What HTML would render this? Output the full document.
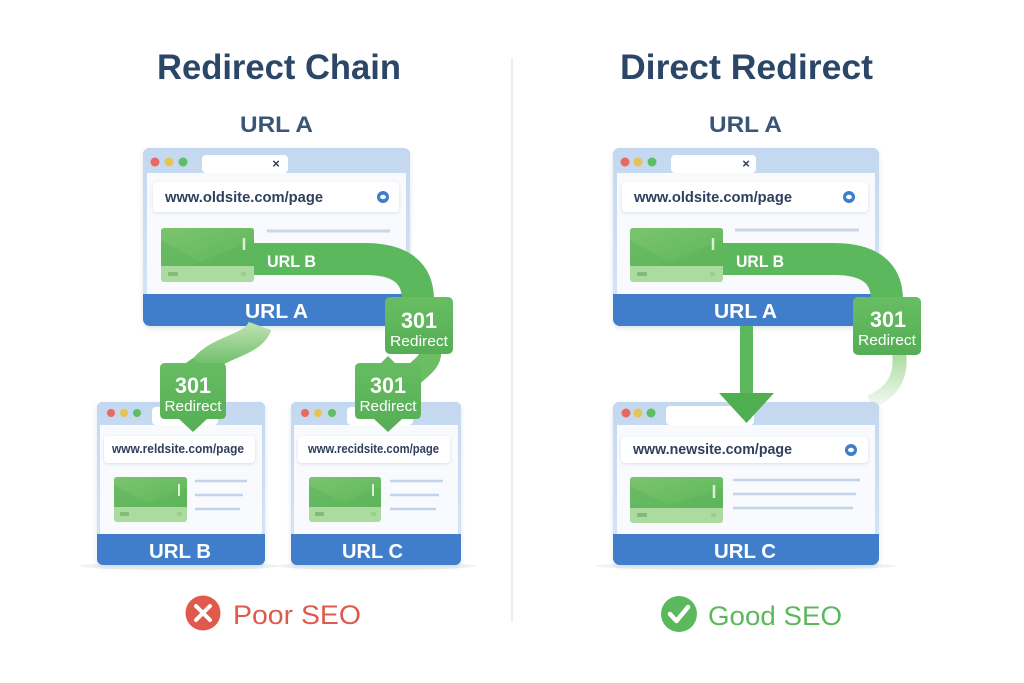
<!DOCTYPE html>
<html><head><meta charset="utf-8"><style>
html,body{margin:0;padding:0;background:#fff;}
svg{display:block;}
text{font-family:"Liberation Sans",sans-serif;}
</style></head><body>
<svg width="1024" height="683" viewBox="0 0 1024 683" xmlns="http://www.w3.org/2000/svg">
<defs>
<filter id="sh" x="-10%" y="-10%" width="120%" height="130%"><feDropShadow dx="0" dy="2" stdDeviation="2.5" flood-color="#7a90b0" flood-opacity="0.25"/></filter>
<filter id="sh2" x="-10%" y="-10%" width="120%" height="130%"><feDropShadow dx="0" dy="1" stdDeviation="1.5" flood-color="#8aa0bf" flood-opacity="0.3"/></filter>
<linearGradient id="gimg" x1="0" y1="0" x2="1" y2="1"><stop offset="0" stop-color="#7cc46f"/><stop offset="1" stop-color="#5cb65a"/></linearGradient>
<linearGradient id="gbox" x1="0" y1="0" x2="0" y2="1"><stop offset="0" stop-color="#68bd62"/><stop offset="1" stop-color="#55ae55"/></linearGradient>
<linearGradient id="gribA" x1="0" y1="0" x2="0" y2="1"><stop offset="0" stop-color="#b9e0ae"/><stop offset="1" stop-color="#62b95d"/></linearGradient>
<linearGradient id="garc" x1="0" y1="0" x2="0" y2="1"><stop offset="0" stop-color="#a9d99c"/><stop offset="1" stop-color="#eef7ec"/></linearGradient>
<linearGradient id="gtb" x1="0" y1="0" x2="0" y2="1"><stop offset="0" stop-color="#c3d8f0"/><stop offset="1" stop-color="#d3e3f5"/></linearGradient>
</defs>

<!-- divider -->
<line x1="512" y1="58" x2="512" y2="622" stroke="#e4e7eb" stroke-width="1.5"/>

<!-- titles -->
<text x="157" y="79" font-size="35" font-weight="bold" fill="#2c4668" textLength="244" lengthAdjust="spacingAndGlyphs">Redirect Chain</text>
<text x="620" y="79" font-size="35" font-weight="bold" fill="#2c4668" textLength="253" lengthAdjust="spacingAndGlyphs">Direct Redirect</text>
<text x="240" y="132" font-size="22" font-weight="bold" fill="#3b5577" textLength="73" lengthAdjust="spacingAndGlyphs">URL A</text>
<text x="709" y="132" font-size="22" font-weight="bold" fill="#3b5577" textLength="73" lengthAdjust="spacingAndGlyphs">URL A</text>

<!-- ============ LEFT TOP WINDOW ============ -->
<g filter="url(#sh)">
<rect x="143" y="148" width="267" height="178" rx="7" fill="#3f7ecb"/>
<rect x="143" y="148" width="267" height="146" rx="7" fill="url(#gtb)"/>
<rect x="143" y="284" width="267" height="10" fill="#d3e3f5"/>
</g>
<rect x="147" y="173" width="259" height="121" fill="#f8fafd"/>
<circle cx="155" cy="162" r="4.5" fill="#e8695f"/>
<circle cx="169" cy="162" r="4.5" fill="#e6c453"/>
<circle cx="183" cy="162" r="4.5" fill="#5dbf63"/>
<rect x="202" y="155" width="86" height="18" rx="4" fill="#fff"/>
<text x="276" y="168" font-size="13" font-weight="bold" fill="#2c3e5c" text-anchor="middle">×</text>
<rect x="153" y="182" width="246" height="30" rx="4" fill="#fff" filter="url(#sh2)"/>
<text x="165" y="202" font-size="15" font-weight="bold" fill="#2f405e" textLength="158" lengthAdjust="spacingAndGlyphs">www.oldsite.com/page</text>
<circle cx="383" cy="197" r="6" fill="#3f7ecb"/><ellipse cx="383" cy="197" rx="3" ry="2.2" fill="#fff"/>
<line x1="267" y1="231" x2="390" y2="231" stroke="#c9d7e9" stroke-width="3"/>
<rect x="161" y="228" width="93" height="54" rx="3" fill="#acdba0"/>
<path d="M164,228 H251 Q254,228 254,231 V266 H161 V231 Q161,228 164,228 Z" fill="url(#gimg)"/>
<path d="M161,240 L200,262 L254,240 V266 H161 Z" fill="#5db45a" opacity="0.5"/>
<line x1="244" y1="238" x2="244" y2="250" stroke="#d9efd3" stroke-width="2.5"/>
<rect x="168" y="272" width="10" height="4" rx="1" fill="#84ba79"/>
<rect x="241" y="272" width="5" height="4" rx="1" fill="#9ccd90"/>
<!-- ribbon URL B -->
<path d="M254,259 H365 Q418,259 418,300" fill="none" stroke="#5cb85c" stroke-width="32"/>
<text x="267" y="267" font-size="17" font-weight="bold" fill="#fff" textLength="49" lengthAdjust="spacingAndGlyphs">URL B</text>
<text x="245" y="318" font-size="20" font-weight="bold" fill="#fff" textLength="63" lengthAdjust="spacingAndGlyphs">URL A</text>

<!-- ribbons to lower badges -->
<path d="M260,326 C252,348 214,345 198,372" fill="none" stroke="url(#gribA)" stroke-width="24"/>
<path d="M430,350 C432,362 420,368 410,378" fill="none" stroke="#6abd63" stroke-width="22"/>

<!-- 301 box left -->
<rect x="385" y="297" width="68" height="57" rx="5" fill="url(#gbox)"/>
<text x="419" y="328" font-size="22" font-weight="bold" fill="#fff" text-anchor="middle" textLength="36" lengthAdjust="spacingAndGlyphs">301</text>
<text x="419" y="346" font-size="15" fill="#fff" text-anchor="middle" textLength="58" lengthAdjust="spacingAndGlyphs">Redirect</text>

<!-- ============ LOWER WINDOW B ============ -->
<ellipse cx="180" cy="566" rx="100" ry="4" fill="#eef1f5"/>
<g filter="url(#sh)">
<rect x="97" y="402" width="168" height="163" rx="6" fill="#3f7ecb"/>
<rect x="97" y="402" width="168" height="132" rx="6" fill="url(#gtb)"/>
<rect x="97" y="526" width="168" height="8" fill="#d3e3f5"/>
</g>
<rect x="100" y="425" width="162" height="109" fill="#f8fafd"/>
<circle cx="111" cy="413" r="4" fill="#e8695f"/>
<circle cx="124" cy="413" r="4" fill="#e6c453"/>
<circle cx="137" cy="413" r="4" fill="#5dbf63"/>
<rect x="152" y="407" width="66" height="18" rx="4" fill="#fff"/>
<rect x="104" y="436" width="151" height="27" rx="4" fill="#fff" filter="url(#sh2)"/>
<text x="112" y="453" font-size="12.5" font-weight="bold" fill="#2f405e" textLength="132" lengthAdjust="spacingAndGlyphs">www.reldsite.com/page</text>
<rect x="114" y="477" width="73" height="45" rx="3" fill="#acdba0"/>
<path d="M117,477 H184 Q187,477 187,480 V507 H114 V480 Q114,477 117,477 Z" fill="url(#gimg)"/>
<path d="M114,485 L148,503 L187,487 V507 H114 Z" fill="#5db45a" opacity="0.5"/>
<line x1="179" y1="484" x2="179" y2="496" stroke="#d9efd3" stroke-width="2"/>
<rect x="120" y="512" width="9" height="4" rx="1" fill="#84ba79"/>
<rect x="177" y="512" width="5" height="4" rx="1" fill="#9ccd90"/>
<line x1="195" y1="481" x2="247" y2="481" stroke="#c2d3ea" stroke-width="2.5"/>
<line x1="195" y1="495" x2="243" y2="495" stroke="#c2d3ea" stroke-width="2.5"/>
<line x1="195" y1="509" x2="240" y2="509" stroke="#c2d3ea" stroke-width="2.5"/>
<text x="149" y="558" font-size="20" font-weight="bold" fill="#fff" textLength="62" lengthAdjust="spacingAndGlyphs">URL B</text>

<!-- ============ LOWER WINDOW C ============ -->
<ellipse cx="376" cy="566" rx="100" ry="4" fill="#eef1f5"/>
<g filter="url(#sh)">
<rect x="291" y="402" width="170" height="163" rx="6" fill="#3f7ecb"/>
<rect x="291" y="402" width="170" height="132" rx="6" fill="url(#gtb)"/>
<rect x="291" y="526" width="170" height="8" fill="#d3e3f5"/>
</g>
<rect x="294" y="425" width="164" height="109" fill="#f8fafd"/>
<circle cx="305" cy="413" r="4" fill="#e8695f"/>
<circle cx="318" cy="413" r="4" fill="#e6c453"/>
<circle cx="332" cy="413" r="4" fill="#5dbf63"/>
<rect x="347" y="407" width="66" height="18" rx="4" fill="#fff"/>
<rect x="298" y="436" width="152" height="27" rx="4" fill="#fff" filter="url(#sh2)"/>
<text x="308" y="453" font-size="12.5" font-weight="bold" fill="#2f405e" textLength="131" lengthAdjust="spacingAndGlyphs">www.recidsite.com/page</text>
<rect x="309" y="477" width="72" height="45" rx="3" fill="#acdba0"/>
<path d="M312,477 H378 Q381,477 381,480 V507 H309 V480 Q309,477 312,477 Z" fill="url(#gimg)"/>
<path d="M309,485 L343,503 L381,487 V507 H309 Z" fill="#5db45a" opacity="0.5"/>
<line x1="373" y1="484" x2="373" y2="496" stroke="#d9efd3" stroke-width="2"/>
<rect x="315" y="512" width="9" height="4" rx="1" fill="#84ba79"/>
<rect x="371" y="512" width="5" height="4" rx="1" fill="#9ccd90"/>
<line x1="390" y1="481" x2="443" y2="481" stroke="#c2d3ea" stroke-width="2.5"/>
<line x1="390" y1="495" x2="439" y2="495" stroke="#c2d3ea" stroke-width="2.5"/>
<line x1="390" y1="509" x2="436" y2="509" stroke="#c2d3ea" stroke-width="2.5"/>
<text x="342" y="558" font-size="20" font-weight="bold" fill="#fff" textLength="61" lengthAdjust="spacingAndGlyphs">URL C</text>

<!-- badges -->
<path d="M160,368 Q160,363 165,363 L186,363 L193,358 L200,363 L221,363 Q226,363 226,368 L226,414 Q226,419 221,419 L207,419 L193,432 L179,419 L165,419 Q160,419 160,414 Z" fill="url(#gbox)"/>
<text x="193" y="393" font-size="22" font-weight="bold" fill="#fff" text-anchor="middle" textLength="36" lengthAdjust="spacingAndGlyphs">301</text>
<text x="193" y="411" font-size="15" fill="#fff" text-anchor="middle" textLength="57" lengthAdjust="spacingAndGlyphs">Redirect</text>
<path d="M355,368 Q355,363 360,363 L381,363 L388,356 L395,363 L416,363 Q421,363 421,368 L421,414 Q421,419 416,419 L402,419 L388,432 L374,419 L360,419 Q355,419 355,414 Z" fill="url(#gbox)"/>
<text x="388" y="393" font-size="22" font-weight="bold" fill="#fff" text-anchor="middle" textLength="36" lengthAdjust="spacingAndGlyphs">301</text>
<text x="388" y="411" font-size="15" fill="#fff" text-anchor="middle" textLength="57" lengthAdjust="spacingAndGlyphs">Redirect</text>

<!-- ============ RIGHT TOP WINDOW ============ -->
<g filter="url(#sh)">
<rect x="613" y="148" width="266" height="178" rx="7" fill="#3f7ecb"/>
<rect x="613" y="148" width="266" height="146" rx="7" fill="url(#gtb)"/>
<rect x="613" y="284" width="266" height="10" fill="#d3e3f5"/>
</g>
<rect x="617" y="173" width="258" height="121" fill="#f8fafd"/>
<circle cx="625" cy="162" r="4.5" fill="#e8695f"/>
<circle cx="638" cy="162" r="4.5" fill="#e6c453"/>
<circle cx="652" cy="162" r="4.5" fill="#5dbf63"/>
<rect x="671" y="155" width="85" height="18" rx="4" fill="#fff"/>
<text x="746" y="168" font-size="13" font-weight="bold" fill="#2c3e5c" text-anchor="middle">×</text>
<rect x="622" y="182" width="246" height="30" rx="4" fill="#fff" filter="url(#sh2)"/>
<text x="634" y="202" font-size="15" font-weight="bold" fill="#2f405e" textLength="158" lengthAdjust="spacingAndGlyphs">www.oldsite.com/page</text>
<circle cx="849" cy="197" r="6" fill="#3f7ecb"/><ellipse cx="849" cy="197" rx="3" ry="2.2" fill="#fff"/>
<line x1="735" y1="230" x2="859" y2="230" stroke="#c9d7e9" stroke-width="3"/>
<rect x="630" y="228" width="93" height="54" rx="3" fill="#acdba0"/>
<path d="M633,228 H720 Q723,228 723,231 V266 H630 V231 Q630,228 633,228 Z" fill="url(#gimg)"/>
<path d="M630,240 L669,262 L723,240 V266 H630 Z" fill="#5db45a" opacity="0.5"/>
<line x1="713" y1="238" x2="713" y2="250" stroke="#d9efd3" stroke-width="2.5"/>
<rect x="637" y="272" width="10" height="4" rx="1" fill="#84ba79"/>
<rect x="710" y="272" width="5" height="4" rx="1" fill="#9ccd90"/>
<path d="M723,259 H834 Q887,259 887,300" fill="none" stroke="#5cb85c" stroke-width="32"/>
<text x="736" y="267" font-size="17" font-weight="bold" fill="#fff" textLength="48" lengthAdjust="spacingAndGlyphs">URL B</text>
<text x="714" y="318" font-size="20" font-weight="bold" fill="#fff" textLength="63" lengthAdjust="spacingAndGlyphs">URL A</text>

<!-- arc below right box -->
<path d="M899,352 Q904,388 870,402" fill="none" stroke="url(#garc)" stroke-width="14"/>

<!-- 301 box right -->
<rect x="853" y="297" width="68" height="58" rx="5" fill="url(#gbox)"/>
<text x="888" y="327" font-size="22" font-weight="bold" fill="#fff" text-anchor="middle" textLength="36" lengthAdjust="spacingAndGlyphs">301</text>
<text x="887" y="345" font-size="15" fill="#fff" text-anchor="middle" textLength="58" lengthAdjust="spacingAndGlyphs">Redirect</text>

<!-- ============ RIGHT LOWER WINDOW ============ -->
<ellipse cx="746" cy="566" rx="150" ry="4" fill="#eef1f5"/>
<g filter="url(#sh)">
<rect x="613" y="402" width="266" height="163" rx="7" fill="#3f7ecb"/>
<rect x="613" y="402" width="266" height="132" rx="7" fill="url(#gtb)"/>
<rect x="613" y="524" width="266" height="10" fill="#d3e3f5"/>
</g>
<rect x="617" y="425" width="258" height="109" fill="#f8fafd"/>
<circle cx="626" cy="413" r="4.5" fill="#e8695f"/>
<circle cx="638" cy="413" r="4.5" fill="#e6c453"/>
<circle cx="651" cy="413" r="4.5" fill="#5dbf63"/>
<rect x="666" y="406" width="88" height="19" rx="4" fill="#fff"/>
<rect x="621" y="437" width="247" height="26" rx="4" fill="#fff" filter="url(#sh2)"/>
<text x="633" y="454" font-size="15" font-weight="bold" fill="#2f405e" textLength="159" lengthAdjust="spacingAndGlyphs">www.newsite.com/page</text>
<circle cx="851" cy="450" r="6" fill="#3f7ecb"/><ellipse cx="851" cy="450" rx="3" ry="2.2" fill="#fff"/>
<rect x="630" y="477" width="93" height="46" rx="3" fill="#acdba0"/>
<path d="M633,477 H720 Q723,477 723,480 V508 H630 V480 Q630,477 633,477 Z" fill="url(#gimg)"/>
<path d="M630,486 L669,505 L723,488 V508 H630 Z" fill="#5db45a" opacity="0.5"/>
<line x1="714" y1="485" x2="714" y2="498" stroke="#d9efd3" stroke-width="2.5"/>
<rect x="637" y="513" width="10" height="4" rx="1" fill="#84ba79"/>
<rect x="711" y="513" width="5" height="4" rx="1" fill="#9ccd90"/>
<line x1="733" y1="480" x2="860" y2="480" stroke="#c2d3ea" stroke-width="2.5"/>
<line x1="733" y1="494" x2="856" y2="494" stroke="#c2d3ea" stroke-width="2.5"/>
<line x1="733" y1="508" x2="853" y2="508" stroke="#c2d3ea" stroke-width="2.5"/>
<text x="714" y="558" font-size="20" font-weight="bold" fill="#fff" textLength="62" lengthAdjust="spacingAndGlyphs">URL C</text>

<!-- down arrow -->
<rect x="740" y="326" width="13" height="70" fill="#5cb85c"/>
<path d="M719,393 L774,393 L746.5,423 Z" fill="#4fae4f"/>

<!-- bottom verdicts -->
<circle cx="203" cy="613" r="17.5" fill="#e0594d"/>
<path d="M196,606 L210,620 M210,606 L196,620" stroke="#fff" stroke-width="4" stroke-linecap="round"/>
<text x="233" y="624" font-size="27" fill="#e0594d" textLength="128" lengthAdjust="spacingAndGlyphs">Poor SEO</text>
<circle cx="679" cy="614" r="18" fill="#5cb85c"/>
<path d="M670,614 L676.5,621 L688,607" fill="none" stroke="#fff" stroke-width="4.5" stroke-linecap="round" stroke-linejoin="round"/>
<text x="708" y="625" font-size="27" fill="#5cb85c" textLength="134" lengthAdjust="spacingAndGlyphs">Good SEO</text>
</svg>
</body></html>
